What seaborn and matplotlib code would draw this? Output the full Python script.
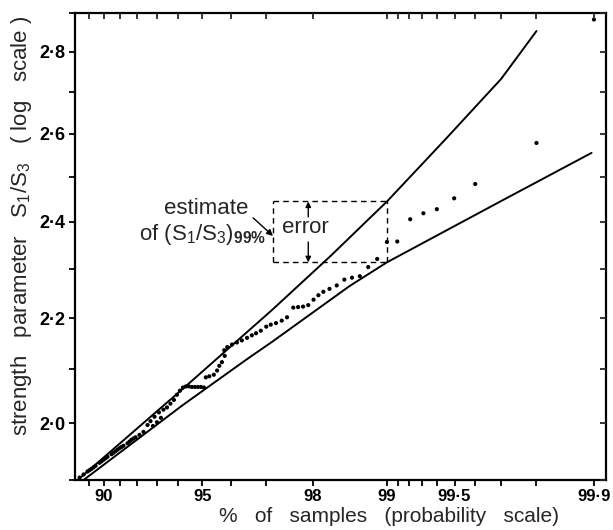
import numpy as np
import matplotlib
matplotlib.use("Agg")
import matplotlib.pyplot as plt
import matplotlib.ticker as mticker
import seaborn as sns
from statistics import NormalDist

# ---------------- data ----------------
# bounding curves: % of samples vs strength parameter S1/S3
upper_pct = [88.2, 94.2, 97.14, 98.29, 99.0, 99.45, 99.7, 99.8]
upper_val = [1.90, 2.063, 2.216, 2.327, 2.445, 2.587, 2.732, 2.853]
lower_pct = [88.62, 94.2, 96.49, 97.14, 98.57, 99.0, 99.7, 99.897]
lower_val = [1.90, 2.033, 2.120, 2.153, 2.265, 2.314, 2.446, 2.555]

# observed samples
sample_pct = [
    99.9, 99.8, 99.6, 99.498, 99.397, 99.307, 99.207, 99.097, 99.0,
    98.9, 98.8, 98.7, 98.6, 98.496, 98.386, 98.275, 98.177, 98.093, 98.008,
    97.912, 97.814, 97.716, 97.618, 97.486, 97.369, 97.236, 97.112, 97.0,
    96.861, 96.735, 96.62, 96.485, 96.334, 96.184, 96.033, 95.88, 95.78,
    95.797, 95.703, 95.613, 95.537, 95.423, 95.259, 95.131,
    95.058, 94.945, 94.827, 94.709, 94.59, 94.47, 94.343, 94.216,
    94.089, 93.959, 93.823, 93.664, 93.505, 93.337, 93.12, 92.899, 92.697,
    93.216, 93.024, 92.823, 92.545,
    92.333, 92.118, 91.899, 91.787, 91.674, 91.562, 91.447, 91.212, 91.094,
    90.976, 90.854, 90.732, 90.61, 90.487, 90.234, 90.108, 89.98, 89.849,
    89.717, 89.452, 89.315, 89.178, 89.041, 88.901, 88.62, 88.333,
]
sample_val = [
    2.883, 2.578, 2.484, 2.452, 2.428, 2.419, 2.406, 2.358, 2.357,
    2.321, 2.304, 2.285, 2.282, 2.278, 2.266, 2.259, 2.253, 2.246, 2.237,
    2.226, 2.223, 2.222, 2.221, 2.2016, 2.195, 2.190, 2.187, 2.183,
    2.175, 2.170, 2.166, 2.161, 2.156, 2.152, 2.148, 2.143, 2.137,
    2.126, 2.114, 2.107, 2.098, 2.090, 2.087, 2.085,
    2.066, 2.067, 2.067, 2.067, 2.067, 2.068, 2.068, 2.066,
    2.060, 2.0525, 2.043, 2.036, 2.029, 2.025, 2.020, 2.012, 2.004,
    2.010, 2.002, 1.9952, 1.997,
    1.9846, 1.9793, 1.9749, 1.9728, 1.9705, 1.9673, 1.9643, 1.9599, 1.9576,
    1.9555, 1.9528, 1.9502, 1.9475, 1.9449, 1.9405, 1.9378, 1.9352, 1.9325,
    1.9299, 1.9246, 1.9219, 1.9193, 1.917, 1.9148, 1.9095, 1.9042,
]

x_major = [90, 95, 98, 99, 99.5, 99.9]
x_major_labels = ["90", "95", "98", "99", "99\u00b75", "99\u00b79"]
x_minor = [89, 91, 92, 93, 94, 96, 97, 99.1, 99.2, 99.3, 99.4, 99.6, 99.7, 99.8]
y_major = [2.0, 2.2, 2.4, 2.6, 2.8]
y_major_labels = ["2\u00b70", "2\u00b72", "2\u00b74", "2\u00b76", "2\u00b78"]
y_minor = [1.9, 2.1, 2.3, 2.5, 2.7, 2.9]

# estimate box (99 % point)
box_left, box_right = 97.166, 99.0
box_bottom, box_top = 2.314, 2.445

# ---------------- probability scale ----------------
_nd = NormalDist()
_ppf = np.vectorize(lambda q: _nd.inv_cdf(q), otypes=[float])
_cdf = np.vectorize(lambda z: _nd.cdf(z), otypes=[float])


def prob_forward(p):
    p = np.asarray(p, dtype=float)
    q = np.clip(p / 100.0, 1e-9, 1 - 1e-9)
    return _ppf(q)


def prob_inverse(z):
    z = np.asarray(z, dtype=float)
    return 100.0 * _cdf(z)


# ---------------- figure ----------------
sns.set_style("ticks")
plt.rcParams['font.family'] = ['Liberation Sans', 'DejaVu Sans']
plt.rcParams['mathtext.fontset'] = 'custom'
plt.rcParams['mathtext.rm'] = 'Liberation Sans'
plt.rcParams['mathtext.it'] = 'Liberation Sans:italic'
plt.rcParams['mathtext.bf'] = 'Liberation Sans:bold'

W, H = 613, 530
fig = plt.figure(figsize=(W / 100, H / 100), dpi=100)
pos = [75 / W, 1 - 480 / H, (606 - 75) / W, (480 - 13) / H]
ax = fig.add_axes(pos)

sns.lineplot(x=upper_pct, y=upper_val, ax=ax, color="black", lw=1.4,
             sort=False, estimator=None)
sns.lineplot(x=lower_pct, y=lower_val, ax=ax, color="black", lw=1.4,
             sort=False, estimator=None)
sns.scatterplot(x=sample_pct, y=sample_val, ax=ax, color="black", s=9,
                edgecolor="none", linewidth=0, zorder=3)

XLIM = (88.0, 99.914)
YLIM = (1.9, 2.9)


def setup_axis(a):
    a.set_xscale('function', functions=(prob_forward, prob_inverse))
    a.set_yscale('log')
    a.set_xlim(*XLIM)
    a.set_ylim(*YLIM)
    a.xaxis.set_major_locator(mticker.FixedLocator(x_major))
    a.xaxis.set_minor_locator(mticker.FixedLocator(x_minor))
    a.yaxis.set_major_locator(mticker.FixedLocator(y_major))
    a.yaxis.set_minor_locator(mticker.FixedLocator(y_minor))
    a.xaxis.set_minor_formatter(mticker.NullFormatter())
    a.yaxis.set_minor_formatter(mticker.NullFormatter())


setup_axis(ax)
ax.xaxis.set_major_formatter(mticker.FixedFormatter(x_major_labels))
ax.yaxis.set_major_formatter(mticker.FixedFormatter(y_major_labels))
ax.tick_params(axis='both', which='both', direction='out', length=4,
               width=1.3, colors='black')
ax.tick_params(axis='x', which='both', pad=2.2, labelsize=12)
ax.tick_params(axis='y', which='both', pad=3, labelsize=13)
for lab in ax.get_xticklabels() + ax.get_yticklabels():
    lab.set_fontweight('bold')
for s in ax.spines.values():
    s.set_visible(True)
    s.set_linewidth(1.6)
    s.set_color('black')

# inward ticks on top and right
ax2 = fig.add_axes(pos, frameon=False)
setup_axis(ax2)
ax2.xaxis.set_major_formatter(mticker.NullFormatter())
ax2.yaxis.set_major_formatter(mticker.NullFormatter())
ax2.tick_params(axis='both', which='both', direction='in', length=4, width=1.3,
                top=True, right=True, bottom=False, left=False,
                labeltop=False, labelright=False, labelbottom=False, labelleft=False)
ax2.patch.set_visible(False)

# labels
ax.set_xlabel("%   of   samples   (probability   scale)", fontsize=15)
ax.xaxis.set_label_coords(0.591, -0.0585)
ax.set_ylabel("strength   parameter   $\\mathrm{S_1/S_3}$   ( log   scale )",
              fontsize=16)
ax.yaxis.set_label_coords(-0.077, 0.544)

# estimate box
dash = (0, (4, 3))
ax.plot([box_left, box_right], [box_top, box_top], color='black', lw=1.0, ls=dash)
ax.plot([box_left, box_right], [box_bottom, box_bottom], color='black', lw=1.0, ls=dash)
ax.plot([box_left, box_left], [box_bottom, box_top], color='black', lw=1.0, ls=dash)
ax.plot([box_right, box_right], [box_bottom, box_top], color='black', lw=1.0, ls=dash)

err_x = 97.912
ax.annotate("", xy=(err_x, box_top), xytext=(err_x, 2.411),
            arrowprops=dict(arrowstyle='-|>', lw=1.0, color='black',
                            mutation_scale=8, shrinkA=0, shrinkB=0))
ax.annotate("", xy=(err_x, box_bottom), xytext=(err_x, 2.357),
            arrowprops=dict(arrowstyle='-|>', lw=1.0, color='black',
                            mutation_scale=8, shrinkA=0, shrinkB=0))
ax.text(97.867, 2.387, "error", fontsize=16, ha='center', va='center')

ax.text(95.15, 2.429, "estimate", fontsize=16, ha='center', va='center')
ax.text(92.065, 2.362, "of $\\mathrm{(S_1/S_3)}_{\\mathbf{99\\%}}$", fontsize=16,
        ha='left', va='baseline')
ax.annotate("", xy=(97.166, 2.370), xytext=(96.655, 2.409),
            arrowprops=dict(arrowstyle='-|>', lw=1.0, color='black',
                            mutation_scale=9, shrinkA=0, shrinkB=0))

fig.savefig("out.png", dpi=100)
